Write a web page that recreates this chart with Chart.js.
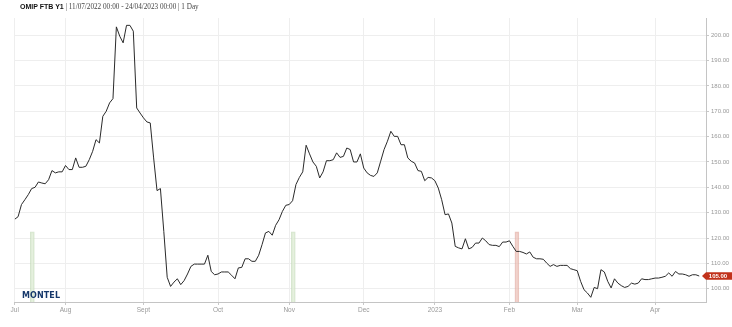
<!DOCTYPE html>
<html>
<head>
<meta charset="utf-8">
<script src="https://cdn.jsdelivr.net/npm/chart.js"></script>
<style>
  html, body { margin: 0; padding: 0; background: #fff; }
  #wrap { position: relative; width: 732px; height: 327px; }
  #title { position: absolute; left: 20px; top: 3px; font: 7.2px "Liberation Serif", serif; color: #444; white-space: nowrap; }
  #title b { font: bold 7px "Liberation Sans", sans-serif; color: #111; }
  #logo { position: absolute; left: 22px; top: 291px; font: bold 8px "DejaVu Sans", sans-serif; color: #16386b; letter-spacing: 0.1px; }
</style>
</head>
<body>
<div id="wrap">
  <canvas id="myChart"></canvas>
  <div id="title"><b>OMIP FTB Y1</b> | 11/07/2022 00:00 - 24/04/2023 00:00 | 1 Day</div>
  <div id="logo">MONTEL</div>
</div>

<script>
// trading-day index of the first session of each month, and its label
const monthIdx = [0, 15, 38, 60, 81, 103, 124, 146, 166, 189];
const monthLabels = ['Jul', 'Aug', 'Sept', 'Oct', 'Nov', 'Dec', '2023', 'Feb', 'Mar', 'Apr'];
const yTickVals = [100, 110, 120, 130, 140, 150, 160, 170, 180, 190, 200];

// daily close, one per trading day from 11/07/2022
const prices = [
  127.4, 128.4, 133.2, 135.1, 137.1, 139.5, 140.0, 142.1, 141.7, 141.4,
  143.0, 146.6, 145.7, 146.1, 146.1, 148.6, 147.0, 147.0, 151.6, 147.9,
  147.9, 148.3, 150.9, 154.2, 158.8, 157.5, 168.0, 170.0, 173.3, 175.0,
  203.3, 199.6, 197.0, 203.9, 203.9, 201.6, 171.3, 169.3, 167.4, 165.8,
  165.4, 151.6, 138.7, 139.5, 122.6, 104.5, 100.9, 102.6, 103.9, 101.6,
  103.2, 105.8, 108.8, 109.7, 109.7, 109.7, 109.7, 113.2, 106.8, 105.5,
  105.8, 106.6, 106.6, 106.6, 105.3, 103.9, 108.2, 108.4, 111.8, 111.8,
  110.8, 110.8, 113.2, 117.4, 122.0, 122.6, 121.1, 125.0, 127.2, 130.5,
  132.9, 133.2, 134.7, 141.1, 143.9, 146.1, 156.6, 153.2, 150.0, 148.3,
  143.7, 146.1, 150.5, 150.5, 150.9, 153.6, 151.8, 152.2, 155.5, 154.9,
  150.0, 150.0, 153.2, 147.6, 145.7, 144.7, 144.3, 145.7, 150.3, 154.9,
  158.2, 162.1, 160.1, 160.1, 156.8, 156.8, 151.6, 150.3, 149.6, 146.6,
  146.3, 142.6, 143.9, 143.7, 142.6, 139.7, 135.1, 129.2, 129.5, 125.9,
  116.7, 116.1, 115.7, 119.7, 115.7, 116.3, 118.0, 118.0, 120.0, 118.9,
  117.4, 117.1, 117.1, 116.6, 118.4, 118.4, 118.9, 116.7, 114.7, 114.7,
  114.3, 113.7, 114.5, 112.4, 111.8, 111.8, 111.6, 110.1, 108.8, 109.5,
  108.8, 109.2, 109.2, 109.2, 107.9, 107.5, 107.1, 102.9, 99.6, 98.3,
  96.6, 100.5, 100.0, 107.5, 106.6, 102.9, 100.3, 103.9, 102.2, 101.2,
  100.5, 100.9, 102.2, 101.8, 102.2, 103.9, 103.6, 103.6, 103.9, 104.2,
  104.2, 104.5, 104.9, 106.2, 104.9, 106.8, 105.8, 105.8, 105.5, 104.9,
  105.5, 105.5, 105.0
];

// event markers
const eventIdx = [5.2, 82.2, 148.2];
const eventTop = [122.4, 122.4, 122.4];
const eventKind = ['up', 'up', 'down'];

const yMin = 94.75, yMax = 206.8;
const lastValue = prices[prices.length - 1];

const lastTag = {
  id: 'lastTag',
  afterDraw(chart) {
    const ctx = chart.ctx;
    const py = chart.scales.y.getPixelForValue(lastValue);
    const x0 = chart.chartArea.right - 4;
    const w = chart.width;
    ctx.save();
    ctx.fillStyle = '#c1321b';
    ctx.beginPath();
    ctx.moveTo(x0, py);
    ctx.lineTo(x0 + 4, py - 3.7);
    ctx.lineTo(w, py - 3.7);
    ctx.lineTo(w, py + 3.7);
    ctx.lineTo(x0 + 4, py + 3.7);
    ctx.closePath();
    ctx.fill();
    ctx.fillStyle = '#fff';
    ctx.font = 'bold 6px "Liberation Sans"';
    ctx.textAlign = 'center';
    ctx.textBaseline = 'middle';
    ctx.fillText(lastValue.toFixed(2), x0 + 16, py + 0.5);
    ctx.restore();
  }
};

const config = {
  type: 'line',
  data: {
    datasets: [{
      type: 'line',
      data: prices.map((v, i) => ({ x: i, y: v })),
      borderColor: '#2a2a2a',
      borderWidth: 1,
      pointRadius: 0,
      tension: 0,
      order: 1
    }, {
      type: 'bar',
      data: eventIdx.map((x, i) => ({ x: x, y: [yMin, eventTop[i]] })),
      backgroundColor: ctx => eventKind[ctx.dataIndex] === 'down' ? 'rgba(236,196,188,0.7)' : 'rgba(222,236,214,0.8)',
      borderColor: ctx => eventKind[ctx.dataIndex] === 'down' ? 'rgba(222,160,150,0.6)' : 'rgba(196,218,186,0.7)',
      borderWidth: 1,
      barThickness: 4,
      order: 2
    }]
  },
  options: {
    responsive: true,
    maintainAspectRatio: false,
    animation: false,
    layout: { padding: { left: 14.7, top: 18, right: 0, bottom: 0 } },
    plugins: { legend: { display: false }, tooltip: { enabled: false } },
    scales: {
      x: {
        type: 'linear',
        min: 0,
        max: 204,
        offset: false,
        afterBuildTicks: axis => { axis.ticks = monthIdx.map(v => ({ value: v })); },
        afterFit: s => { s.height = 25; },
        grid: { color: '#eeeeee', offset: false, tickLength: 3, tickColor: '#c8c8c8' },
        border: { color: '#c4c4c4' },
        ticks: {
          autoSkip: false,
          maxRotation: 0,
          padding: 1,
          color: '#999',
          font: { family: 'Liberation Sans', size: 6.5 },
          callback: v => monthLabels[monthIdx.indexOf(v)]
        }
      },
      y: {
        position: 'right',
        min: yMin,
        max: yMax,
        afterBuildTicks: axis => { axis.ticks = yTickVals.map(v => ({ value: v })); },
        afterFit: s => { s.width = 26; },
        grid: { color: '#eeeeee', tickLength: 3, tickColor: '#c8c8c8' },
        border: { color: '#c4c4c4' },
        ticks: {
          padding: 2,
          color: '#999',
          font: { family: 'Liberation Sans', size: 6 },
          callback: v => v.toFixed(2)
        }
      }
    }
  },
  plugins: [lastTag]
};

const myChart = new Chart(document.getElementById('myChart'), config);
</script>
</body>
</html>
